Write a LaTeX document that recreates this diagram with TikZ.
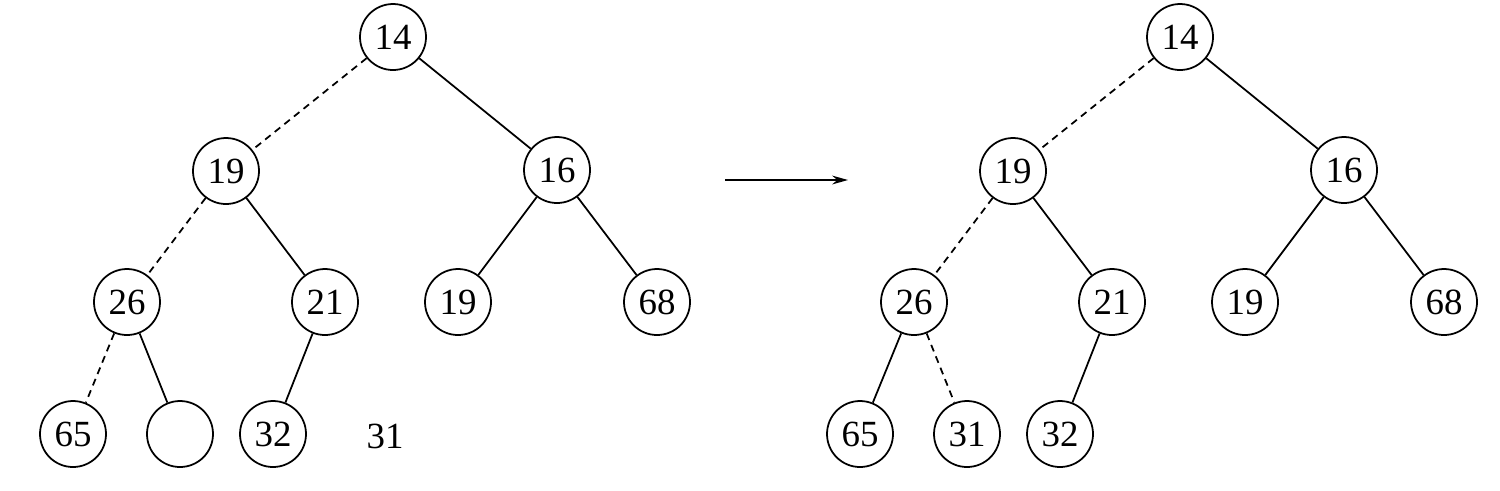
\documentclass[tikz,border=0pt]{standalone}
\usepackage{fontspec}
\setmainfont{Liberation Serif}
\usetikzlibrary{arrows.meta}

\begin{document}
\begin{tikzpicture}[line width=1pt,
	key/.style={draw, circle, minimum size=1.32cm, inner sep=0pt, font=\fontsize{21}{25}\selectfont},
	moved/.style={dash pattern=on 4pt off 3pt}]
	\def\R{15.74}
	\useasboundingbox (0,0) rectangle (30,-9.8);

	% heap before the percolation step
	\node[key] (a14) at (7.86,-0.74) {14};
	\node[key] (a19) at (4.52,-3.42) {19};
	\node[key] (a16) at (11.14,-3.40) {16};
	\node[key] (a26) at (2.54,-6.04) {26};
	\node[key] (a21) at (6.50,-6.04) {21};
	\node[key] (a19b) at (9.16,-6.04) {19};
	\node[key] (a68) at (13.14,-6.04) {68};
	\node[key] (a65) at (1.46,-8.68) {65};
	\node[key] (ahole) at (3.60,-8.68) {};
	\node[key] (a32) at (5.46,-8.68) {32};
	\node[font=\fontsize{21}{25}\selectfont] (a31) at (7.70,-8.72) {31};

	\draw[moved]	(a14) -- (a19);
	\draw		(a14) -- (a16);
	\draw[moved]	(a19) -- (a26);
	\draw		(a19) -- (a21);
	\draw		(a16) -- (a19b);
	\draw		(a16) -- (a68);
	\draw[moved]	(a26) -- (a65);
	\draw		(a26) -- (ahole);
	\draw		(a21) -- (a32);

	% step arrow
	\coordinate (s) at (14.50,-3.60);
	\coordinate (t) at (16.96,-3.60);
	\draw[-{Stealth[length=9pt, width=5pt]}] (s) -- (t);

	% heap after
	\begin{scope}[xshift=\R cm]
	\node[key] (b14) at (7.86,-0.74) {14};
	\node[key] (b19) at (4.52,-3.42) {19};
	\node[key] (b16) at (11.14,-3.40) {16};
	\node[key] (b26) at (2.54,-6.04) {26};
	\node[key] (b21) at (6.50,-6.04) {21};
	\node[key] (b19b) at (9.16,-6.04) {19};
	\node[key] (b68) at (13.14,-6.04) {68};
	\node[key] (b65) at (1.46,-8.68) {65};
	\node[key] (b31) at (3.60,-8.68) {31};
	\node[key] (b32) at (5.46,-8.68) {32};
	\end{scope}

	\draw[moved]	(b14) -- (b19);
	\draw		(b14) -- (b16);
	\draw[moved]	(b19) -- (b26);
	\draw		(b19) -- (b21);
	\draw		(b16) -- (b19b);
	\draw		(b16) -- (b68);
	\draw		(b26) -- (b65);
	\draw[moved]	(b26) -- (b31);
	\draw		(b21) -- (b32);
\end{tikzpicture}
\end{document}
